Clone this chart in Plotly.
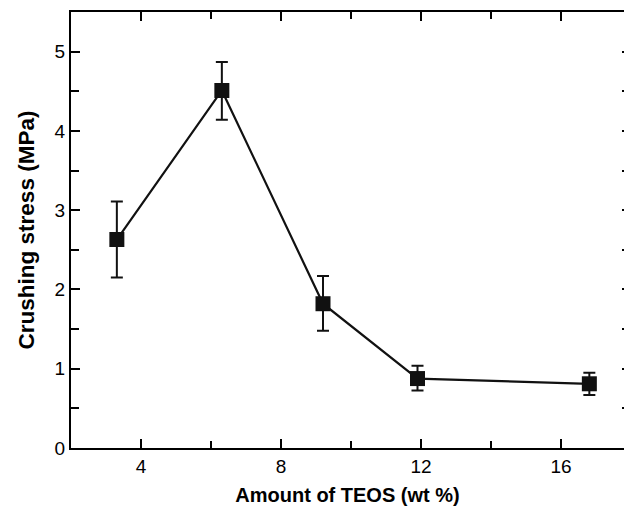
import plotly.graph_objects as go

teos = [3.31, 6.31, 9.2, 11.9, 16.81]
stress = [2.63, 4.51, 1.82, 0.876, 0.81]
err_plus = [0.48, 0.36, 0.35, 0.16, 0.14]
err_minus = [0.48, 0.37, 0.34, 0.15, 0.14]

x_ticks = [4, 8, 12, 16]
y_ticks = [0, 1, 2, 3, 4, 5]

FONT = "Liberation Sans, Arial, sans-serif"

fig = go.Figure()
fig.add_trace(go.Scatter(
    x=teos, y=stress, mode="lines+markers",
    line=dict(color="#111111", width=2.2),
    marker=dict(symbol="square", size=15, color="#111111"),
    error_y=dict(type="data", symmetric=False, array=err_plus, arrayminus=err_minus,
                 color="#111111", thickness=2, width=6),
    showlegend=False,
))
# invisible trace to host the right-hand tick axis
fig.add_trace(go.Scatter(x=[None], y=[None], yaxis="y2", showlegend=False, hoverinfo="skip"))

fig.update_layout(
    width=624, height=507,
    margin=dict(l=71, r=0, t=12, b=59),
    plot_bgcolor="white", paper_bgcolor="white",
    font=dict(family=FONT, size=19, color="black"),
    xaxis=dict(
        range=[2, 17.8], tickmode="array", tickvals=x_ticks,
        ticks="inside", ticklen=9, tickwidth=2, tickcolor="black",
        minor=dict(tickmode="array", tickvals=[2, 6, 10, 14], ticks="inside", ticklen=7, tickwidth=2, tickcolor="black"),
        showline=True, linewidth=2, linecolor="black", mirror="ticks",
        showgrid=False, zeroline=False,
        tickfont=dict(size=19),
        title=dict(text="<b>Amount of TEOS (wt %)</b>", font=dict(size=20), standoff=12),
    ),
    yaxis=dict(
        range=[0, 5.5], tickmode="array", tickvals=y_ticks,
        ticks="inside", ticklen=9, tickwidth=2, tickcolor="black",
        minor=dict(tickmode="array", tickvals=[0.5, 1.5, 2.5, 3.5, 4.5], ticks="inside", ticklen=8, tickwidth=2, tickcolor="black"),
        showline=True, linewidth=2, linecolor="black", mirror=False,
        showgrid=False, zeroline=False,
        tickfont=dict(size=19),
        title=dict(text="<b>Crushing stress (MPa)</b>", font=dict(size=22.5), standoff=14),
    ),
    yaxis2=dict(
        overlaying="y", side="right", range=[0, 5.5],
        tickmode="array", tickvals=[0, 0.5, 1, 1.5, 2, 2.5, 3, 3.5, 4, 4.5, 5],
        ticks="inside", ticklen=2, tickwidth=2, tickcolor="black",
        showticklabels=False, showline=False, showgrid=False, zeroline=False,
    ),
)

fig.write_html("out.html")
